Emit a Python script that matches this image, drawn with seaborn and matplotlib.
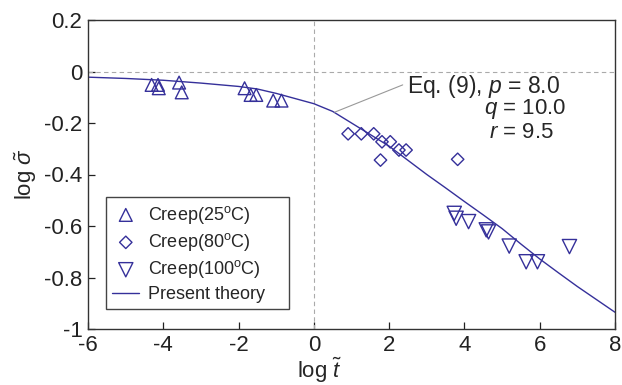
import numpy as np
import pandas as pd
import matplotlib
matplotlib.use("Agg")
import matplotlib.pyplot as plt
import seaborn as sns

# ---- data ----
creep25_x = [-4.31, -4.14, -4.12, -3.58, -3.51, -1.84, -1.68, -1.53, -1.08, -0.86]
creep25_y = [-0.052, -0.052, -0.065, -0.043, -0.081, -0.065, -0.091, -0.091, -0.113, -0.113]

creep80_x = [0.91, 1.26, 1.59, 1.77, 1.81, 2.03, 2.26, 2.45, 3.82]
creep80_y = [-0.242, -0.242, -0.242, -0.344, -0.273, -0.273, -0.305, -0.305, -0.341]

creep100_x = [3.73, 3.78, 4.11, 4.58, 4.64, 5.19, 5.64, 5.94, 6.79]
creep100_y = [-0.551, -0.570, -0.583, -0.615, -0.623, -0.678, -0.739, -0.739, -0.680]

theory_x = [-6, -5, -4, -3, -2, -1.5, -1, -0.5, 0, 0.5, 1, 1.5, 2, 2.5, 3,
            3.5, 4, 4.5, 5, 5.5, 6, 6.5, 7, 7.5, 8]
theory_y = [-0.022, -0.027, -0.034, -0.045, -0.058, -0.068, -0.085, -0.105,
            -0.125, -0.155, -0.200, -0.245, -0.290, -0.345, -0.400, -0.452,
            -0.505, -0.557, -0.610, -0.670, -0.728, -0.782, -0.835, -0.885, -0.935]

x_ticks = [-6, -4, -2, 0, 2, 4, 6, 8]
x_tick_labels = ["-6", "-4", "-2", "0", "2", "4", "6", "8"]
y_ticks = [0.2, 0, -0.2, -0.4, -0.6, -0.8, -1]
y_tick_labels = ["0.2", "0", "-0.2", "-0.4", "-0.6", "-0.8", "-1"]

series_labels = ["Creep(25$^\\mathrm{o}$C)", "Creep(80$^\\mathrm{o}$C)",
                 "Creep(100$^\\mathrm{o}$C)", "Present theory"]

# ---- style ----
sns.set_style("ticks")
plt.rcParams["font.family"] = ["Liberation Sans", "DejaVu Sans"]
plt.rcParams["mathtext.fontset"] = "custom"
plt.rcParams["mathtext.rm"] = "Liberation Sans"
plt.rcParams["mathtext.it"] = "Liberation Sans:italic"
plt.rcParams["mathtext.sf"] = "Liberation Sans"
plt.rcParams["axes.unicode_minus"] = False

col = "#35309a"
fig = plt.figure(figsize=(6.22, 3.85), dpi=100)
ax = fig.add_axes([88 / 622, (385 - 329) / 385, (615 - 88) / 622, (329 - 20) / 385])

# reference dashed lines
ax.axhline(0, color="#aaaaaa", lw=0.8, ls=(0, (4, 3)), zorder=1)
ax.axvline(0, color="#aaaaaa", lw=0.8, ls=(0, (4, 3)), zorder=1)

df25 = pd.DataFrame({"x": creep25_x, "y": creep25_y})
df80 = pd.DataFrame({"x": creep80_x, "y": creep80_y})
df100 = pd.DataFrame({"x": creep100_x, "y": creep100_y})
dft = pd.DataFrame({"x": theory_x, "y": theory_y})

sns.scatterplot(data=df25, x="x", y="y", ax=ax, marker="^", s=85,
                facecolor="none", edgecolor=col, linewidth=1.0,
                label=series_labels[0], zorder=3)
sns.scatterplot(data=df80, x="x", y="y", ax=ax, marker="D", s=40,
                facecolor="none", edgecolor=col, linewidth=1.0,
                label=series_labels[1], zorder=3)
sns.scatterplot(data=df100, x="x", y="y", ax=ax, marker="v", s=105,
                facecolor="none", edgecolor=col, linewidth=1.0,
                label=series_labels[2], zorder=3)
sns.lineplot(data=dft, x="x", y="y", ax=ax, color=col, lw=1.0,
             label=series_labels[3], zorder=2)

ax.set_xlim(-6, 8)
ax.set_ylim(-1, 0.2)
ax.set_xticks(x_ticks)
ax.set_xticklabels(x_tick_labels)
ax.set_yticks(y_ticks)
ax.set_yticklabels(y_tick_labels)
ax.tick_params(direction="in", length=5, width=0.9, labelsize=16, pad=4,
               colors="#222222")
for s in ax.spines.values():
    s.set_visible(True)
    s.set_color("#333333")
    s.set_linewidth(1.0)

ax.set_xlabel("log $\\tilde{t}$", fontsize=16, labelpad=0)
ax.set_ylabel("log $\\tilde{\\sigma}$", fontsize=16, labelpad=4)
ax.xaxis.set_label_coords(0.44, -0.086)

# annotation
ax.plot([0.552, 2.36], [-0.158, -0.052], color="#999999", lw=0.8, zorder=2)
ax.text(2.47, -0.058, "Eq. (9), $p$ = 8.0", fontsize=16.5, ha="left", va="center")
ax.text(4.52, -0.147, "$q$ = 10.0", fontsize=16, ha="left", va="center")
ax.text(4.66, -0.237, "$r$ = 9.5", fontsize=16, ha="left", va="center")

leg = ax.legend(loc="lower left", bbox_to_anchor=(0.034, 0.064, 0.347, 0.3),
                mode="expand", borderaxespad=0,
                fontsize=13, frameon=True, fancybox=False, framealpha=1,
                edgecolor="#444444", handlelength=1.5, handletextpad=0.5,
                labelspacing=0.3, borderpad=0.35)
leg.get_frame().set_linewidth(1.0)

fig.savefig("out.png", dpi=100)
